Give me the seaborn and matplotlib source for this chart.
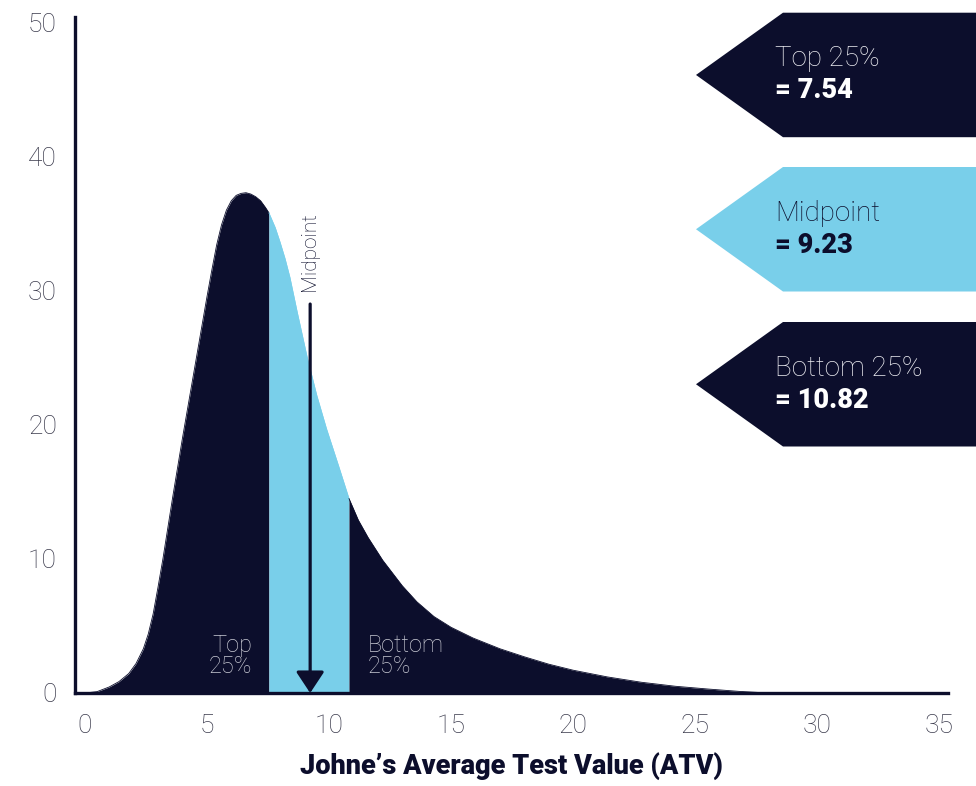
import numpy as np
import pandas as pd
import seaborn as sns
import matplotlib
matplotlib.use('Agg')
import matplotlib.pyplot as plt
from matplotlib.patches import Polygon

# 曲线数据
atv = [0, 0.5, 1.0, 1.4, 1.8, 2.1, 2.4, 2.6, 2.8, 3.0, 3.2, 3.4, 3.6, 3.8, 4.0, 4.2, 4.4,
       4.6, 4.8, 5.0, 5.2, 5.4, 5.6, 5.8, 6.0, 6.2, 6.4, 6.6, 6.8, 7.0, 7.2, 7.4, 7.54,
       7.8, 8.0, 8.2, 8.4, 8.7, 9.1, 9.5, 9.9, 10.4, 10.82, 11.2, 11.6, 12.2, 13.0, 13.6,
       14.3, 15.0, 15.9, 17.0, 18.0, 19.0, 20.0, 21.4, 22.8, 24.2, 25.5, 26.8, 28.0]
density = [0, 0.1, 0.45, 0.85, 1.45, 2.2, 3.3, 4.4, 5.9, 7.9, 10.0, 12.3, 14.6, 16.8, 19.0, 21.1, 23.2,
           25.3, 27.4, 29.5, 31.5, 33.4, 34.9, 36.0, 36.7, 37.1, 37.25, 37.3, 37.2, 37.0, 36.7, 36.2, 35.8,
           34.7, 33.6, 32.4, 31.0, 28.4, 25.1, 22.2, 19.7, 16.9, 14.5, 12.9, 11.6, 9.9, 8.0, 6.8,
           5.7, 4.9, 4.1, 3.3, 2.7, 2.15, 1.7, 1.2, 0.8, 0.5, 0.3, 0.12, 0.0]

top25 = 7.54
midpoint = 9.23
bottom25 = 10.82

box_titles = ['Top 25%', 'Midpoint', 'Bottom 25%']
box_values = ['= 7.54', '= 9.23', '= 10.82']

xticks = [0, 5, 10, 15, 20, 25, 30, 35]
yticks = [0, 10, 20, 30, 40, 50]

navy = '#0C0E2C'
light_blue = '#79CFEA'
tick_grey = '#3A3A4C'

sns.set_theme(style='white')
plt.rcParams['font.family'] = ['Roboto', 'DejaVu Sans']

df = pd.DataFrame({'atv': atv, 'density': density})
# 分段: 前25% / 中间 / 后25%
seg_top = df[df['atv'] <= top25].assign(zone='top')
seg_mid = df[(df['atv'] >= top25) & (df['atv'] <= bottom25)].assign(zone='mid')
seg_bot = df[df['atv'] >= bottom25].assign(zone='bottom')
segs = pd.concat([seg_top, seg_mid, seg_bot], ignore_index=True)

fig = plt.figure(figsize=(9.76, 7.86), dpi=100)
ax = fig.add_axes([75/976, 1-693/786, (948-75)/976, (693-17)/786])

sns.lineplot(data=segs, x='atv', y='density', hue='zone', ax=ax, lw=0.6, sort=False,
             palette={'top': navy, 'mid': light_blue, 'bottom': navy}, legend=False)
x = df['atv'].values
y = df['density'].values
ax.fill_between(x, 0, y, where=(x <= top25), color=navy, lw=0)
ax.fill_between(x, 0, y, where=(x >= top25) & (x <= bottom25), color=light_blue, lw=0)
ax.fill_between(x, 0, y, where=(x >= bottom25), color=navy, lw=0)

# 中点箭头
ax.annotate('', xy=(midpoint, 0), xytext=(midpoint, 29.0),
            arrowprops=dict(arrowstyle='-|>,head_length=0.65,head_width=0.43',
                            lw=2.3, color=navy, mutation_scale=20,
                            shrinkA=0, shrinkB=0))
ax.text(midpoint - 0.02, 30.0, 'Midpoint', rotation=90, ha='center', va='bottom',
        fontsize=15, color=navy, fontweight='light')

ax.text(6.85, 2.75, 'Top\n25%', ha='right', va='center', fontsize=17,
        color='#C9CAD4', fontweight='light', linespacing=0.88)
ax.text(11.6, 2.75, 'Bottom\n25%', ha='left', va='center', fontsize=17,
        color='#C9CAD4', fontweight='light', linespacing=0.88)

ax.set_xlim(-0.4, 35.35)
ax.set_ylim(0, 50.4)
ax.set_xticks(xticks)
ax.set_yticks(yticks)
ax.tick_params(axis='both', length=0, labelsize=19, colors=tick_grey)
ax.tick_params(axis='x', pad=15)
ax.tick_params(axis='y', pad=13)
for lab in ax.get_xticklabels() + ax.get_yticklabels():
    lab.set_fontweight('light')
ax.set_xlabel('Johne\u2019s Average Test Value (ATV)', fontsize=19.5, fontweight='black',
              color=navy, labelpad=10)
ax.set_ylabel('')
for s in ['top', 'right']:
    ax.spines[s].set_visible(False)
for s in ['left', 'bottom']:
    ax.spines[s].set_color(navy)
    ax.spines[s].set_linewidth(2.4)

# 右侧标签框
box_tops = [12.7, 167, 322]
box_fill = [navy, light_blue, navy]
title_col = ['#EDEDF2', navy, '#EDEDF2']
value_col = ['white', navy, 'white']
W, H = 976, 786
for top, fc, t, v, tc, vc in zip(box_tops, box_fill, box_titles, box_values, title_col, value_col):
    bot = top + 124.5
    mid = (top + bot) / 2
    pts = [(696, mid), (783, top), (W, top), (W, bot), (783, bot)]
    pts = [(px / W, 1 - py / H) for px, py in pts]
    fig.patches.append(Polygon(pts, closed=True, transform=fig.transFigure,
                               facecolor=fc, edgecolor='none'))
    fig.text(775 / W, 1 - (mid - 16) / H, t, ha='left', va='center', fontsize=20,
             color=tc, fontweight='light')
    fig.text(775 / W, 1 - (mid + 16) / H, v, ha='left', va='center', fontsize=19.5,
             color=vc, fontweight='black')

fig.savefig('out.png', dpi=100)
